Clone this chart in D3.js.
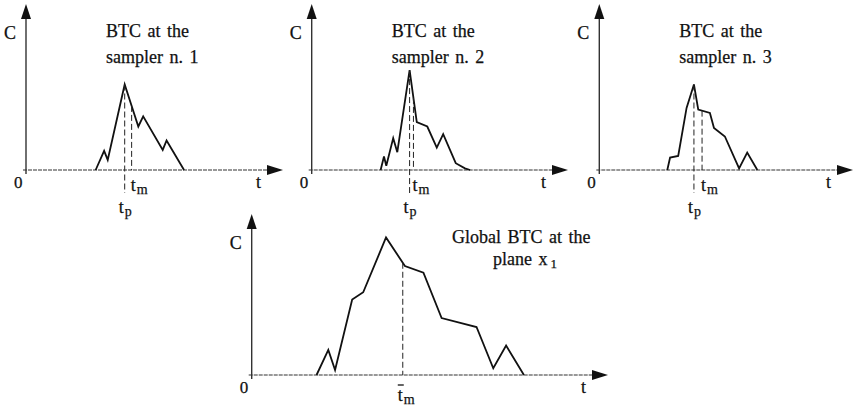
<!DOCTYPE html>
<html>
<head>
<meta charset="utf-8">
<script src="https://cdn.jsdelivr.net/npm/d3@7"></script>
<style>
  body { margin: 0; background: #fff; }
  text { font-family: "Liberation Serif", "Times New Roman", serif; fill: #111; stroke: #111; stroke-width: 0.25px; }
</style>
</head>
<body>
<svg id="chart" width="854" height="408"></svg>
<script>
// breakthrough curves: [time, concentration], both in arbitrary units (0-100 along the axis)
const sampler1 = [[27.1, 0], [30.4, 11.5], [31.8, 6.1], [38.4, 51.5], [43.7, 26.2], [45.6, 32.3],
                  [53.2, 12.1], [54.7, 17.8], [61.5, 0]];
const sampler2 = [[26.9, 0], [28.2, 8.1], [29.1, 2.6], [31.8, 19.2], [33.4, 10.7], [38.2, 60.2],
                  [41.0, 28.9], [45.1, 26.2], [48.8, 13.5], [51.3, 21.6], [56.2, 4.1], [59.8, 1.0], [61.8, 0]];
const sampler3 = [[26.8, 0], [27.9, 7.5], [31.1, 8.5], [34.4, 37.4], [37.3, 51.5], [39.0, 36.4],
                  [43.6, 34.4], [45.2, 25.3], [49.5, 20.2], [55.1, 1.0], [58.3, 10.5], [62.3, 0]];
const globalBtc = [[18.2, 0], [21.5, 15.6], [23.4, 3.1], [28.2, 46.9], [31.3, 51.4], [37.7, 85.4],
                   [43.0, 67.7], [48.2, 63.6], [53.3, 35.4], [63.1, 29.8], [67.8, 4.2], [71.4, 18.3], [76.4, 0]];

// peak time and mean travel time of each sampler
const peakTimes = [38.4, 38.2, 37.3];
const meanTimes = [41.1, 39.7, 40.5];
const globalMean = 42.4;

const samplerTitles = [["BTC at the", "sampler n. 1"], ["BTC at the", "sampler n. 2"], ["BTC at the", "sampler n. 3"]];
const globalTitle = ["Global BTC at the", "plane x"];

const svg = d3.select("#chart");

// frame of each small plot: origin x, arrow tip x, baseline y, arrow tip y
const frames = [
    {x0: 26, x1: 283, y0: 170, y1: 4},
    {x0: 311.7, x1: 568, y0: 170, y1: 4},
    {x0: 599.3, x1: 853, y0: 170, y1: 4}
];
const globalFrame = {x0: 251.7, x1: 608, y0: 375, y1: 214};

function drawAxes(g, f) {
    // y axis with arrow
    g.append("line")
        .attr("x1", f.x0).attr("x2", f.x0)
        .attr("y1", f.y0 + 4).attr("y2", f.y1 + 10)
        .attr("stroke", "#333").attr("stroke-width", 1.4);
    g.append("path")
        .attr("d", `M${f.x0},${f.y1} L${f.x0 - 5},${f.y1 + 15} L${f.x0 + 5},${f.y1 + 15} Z`)
        .attr("fill", "#111");
    // x axis with arrow
    g.append("line")
        .attr("x1", f.x0 - 3).attr("x2", f.x1 - 10)
        .attr("y1", f.y0).attr("y2", f.y0)
        .attr("stroke", "#333").attr("stroke-width", 1.2)
        .attr("stroke-dasharray", "4,1");
    g.append("path")
        .attr("d", `M${f.x1},${f.y0} L${f.x1 - 16},${f.y0 - 5} L${f.x1 - 16},${f.y0 + 5} Z`)
        .attr("fill", "#111");

    g.append("text").attr("x", f.x0 - 22).attr("y", f.y1 + 35)
        .style("font-size", "18px").text("C");
    g.append("text").attr("x", f.x0 - 12).attr("y", f.y0 + 18)
        .style("font-size", "17px").text("0");
    g.append("text").attr("x", f.x1 - 27).attr("y", f.y0 + 18)
        .style("font-size", "18px").text("t");
}

// concentration at time t
function valueAt(data, t) {
    for (let i = 1; i < data.length; i++) {
        if (data[i][0] >= t) {
            let a = data[i - 1], b = data[i];
            return a[1] + (b[1] - a[1]) * (t - a[0]) / (b[0] - a[0]);
        }
    }
    return 0;
}

function subLabel(g, x, y, main, sub) {
    let txt = g.append("text").attr("x", x).attr("y", y).style("font-size", "18px");
    txt.append("tspan").text(main);
    txt.append("tspan").attr("dy", 3).attr("dx", 1).style("font-size", "14px").text(sub);
    return txt;
}

[sampler1, sampler2, sampler3].forEach(function (data, i) {
    let f = frames[i];
    let g = svg.append("g");
    let x = d3.scaleLinear().domain([0, 100]).range([f.x0, f.x1]);
    let y = d3.scaleLinear().domain([0, 100]).range([f.y0, f.y1]);

    drawAxes(g, f);

    let line = d3.line().x(d => x(d[0])).y(d => y(d[1]));
    g.append("path").datum(data)
        .attr("d", line)
        .attr("fill", "none").attr("stroke", "#111").attr("stroke-width", 1.8)
        .attr("stroke-linejoin", "miter");

    // peak time
    g.append("line")
        .attr("x1", x(peakTimes[i])).attr("x2", x(peakTimes[i]))
        .attr("y1", y(valueAt(data, peakTimes[i]))).attr("y2", f.y0 + 23)
        .attr("stroke", "#222").attr("stroke-width", 1).attr("stroke-dasharray", "6,3");
    // mean time
    g.append("line")
        .attr("x1", x(meanTimes[i])).attr("x2", x(meanTimes[i]))
        .attr("y1", y(valueAt(data, meanTimes[i]))).attr("y2", f.y0)
        .attr("stroke", "#222").attr("stroke-width", 1).attr("stroke-dasharray", "6,3");

    subLabel(g, x(meanTimes[i]) - 1, f.y0 + 21, "t", "m");
    subLabel(g, x(peakTimes[i]) - 6, f.y0 + 43, "t", "p");

    let title = g.append("text").style("font-size", "18px").style("word-spacing", "2px");
    title.append("tspan").attr("x", f.x0 + 80).attr("y", 37).text(samplerTitles[i][0]);
    title.append("tspan").attr("x", f.x0 + 80).attr("y", 63).text(samplerTitles[i][1]);
});

// global BTC
{
    let f = globalFrame;
    let g = svg.append("g");
    let x = d3.scaleLinear().domain([0, 100]).range([f.x0, f.x1]);
    let y = d3.scaleLinear().domain([0, 100]).range([f.y0, f.y1]);

    drawAxes(g, f);

    let line = d3.line().x(d => x(d[0])).y(d => y(d[1]));
    g.append("path").datum(globalBtc)
        .attr("d", line)
        .attr("fill", "none").attr("stroke", "#111").attr("stroke-width", 1.8);

    g.append("line")
        .attr("x1", x(globalMean)).attr("x2", x(globalMean))
        .attr("y1", y(valueAt(globalBtc, globalMean))).attr("y2", f.y0)
        .attr("stroke", "#222").attr("stroke-width", 1).attr("stroke-dasharray", "6,3");

    let tx = x(globalMean) - 5;
    subLabel(g, tx, f.y0 + 26, "t", "m");
    g.append("line")
        .attr("x1", tx).attr("x2", tx + 6)
        .attr("y1", f.y0 + 10).attr("y2", f.y0 + 10)
        .attr("stroke", "#111").attr("stroke-width", 1.3);

    let title = g.append("text").style("font-size", "18px").style("word-spacing", "2px");
    title.append("tspan").attr("x", 452).attr("y", 243).text(globalTitle[0]);
    title.append("tspan").attr("x", 493).attr("y", 265).text(globalTitle[1]);
    title.append("tspan").attr("dx", 3).attr("dy", 3).style("font-size", "13px").text("1");
}
</script>
</body>
</html>
